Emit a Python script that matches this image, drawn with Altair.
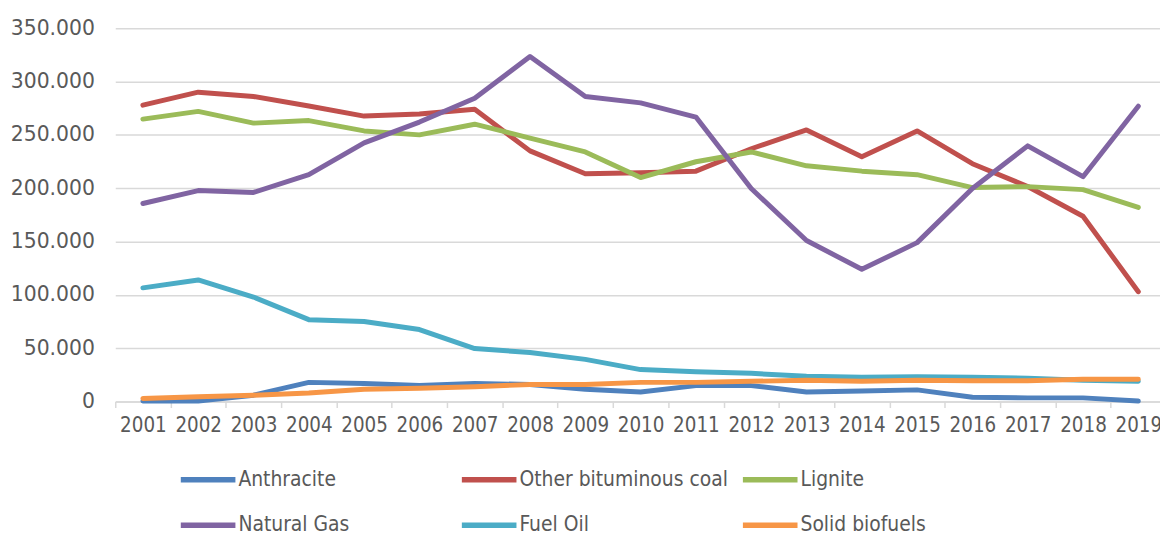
import altair as alt
import pandas as pd

years = [str(y) for y in range(2001, 2020)]
series_names = ["Anthracite", "Other bituminous coal", "Lignite",
                "Natural Gas", "Fuel Oil", "Solid biofuels"]
colors = ["#4F81BD", "#C0504D", "#9BBB59", "#8064A2", "#4BACC6", "#F79646"]

anthracite = [500, 500, 6000, 18000, 17000, 15000, 17000, 16000, 11600, 9000,
              15000, 15000, 9000, 10000, 11000, 4000, 3500, 3500, 500]
other_bituminous = [277900, 290000, 286000, 277000, 267600, 269500, 274000, 235000,
                    213600, 214500, 216000, 237000, 254600, 229500, 253700, 223000,
                    201600, 173700, 103000]
lignite = [264800, 272000, 261000, 263400, 253700, 250000, 260000, 247000, 234000,
           210000, 224800, 234000, 221000, 216000, 212700, 200600, 201500, 198700,
           182000]
natural_gas = [185700, 197800, 196000, 212700, 242500, 262000, 284400, 323500,
               286000, 280000, 266700, 199700, 151000, 124000, 149000, 199700,
               239700, 210800, 276900]
fuel_oil = [106600, 114000, 98000, 76800, 75000, 67500, 49700, 46000, 39600, 30000,
            28000, 26500, 23700, 22800, 23300, 22800, 21900, 20000, 19000]
solid_biofuels = [3000, 4500, 6000, 8000, 11500, 12500, 14000, 16000, 16000, 18000,
                  18000, 19000, 20000, 19000, 20000, 19500, 19500, 21000, 21000]

all_series = [anthracite, other_bituminous, lignite, natural_gas, fuel_oil, solid_biofuels]
rows = []
for name, vals in zip(series_names, all_series):
    for yr, v in zip(years, vals):
        rows.append({"year": yr, "series": name, "value": v})
df = pd.DataFrame(rows)

y_ticks = [0, 50000, 100000, 150000, 200000, 250000, 300000, 350000]
grid_col = "#d9d9d9"
text_col = "#595959"

chart = alt.Chart(df).mark_line(
    strokeWidth=5, strokeCap="round", strokeJoin="round"
).encode(
    x=alt.X("year:O", bandPosition=0.5,
            scale=alt.Scale(type="band", paddingInner=0, paddingOuter=0, range=[0, 1058]),
            axis=alt.Axis(title=None, labelAngle=0, tickBand="extent", grid=False,
                          domainColor=grid_col, domainWidth=1.5, tickColor=grid_col,
                          tickWidth=1.5, tickSize=6, labelPadding=8,
                          labelFont="DejaVu Sans Condensed", labelFontSize=20.5,
                          labelColor=text_col)),
    y=alt.Y("value:Q", scale=alt.Scale(domain=[0, 350000], nice=False),
            axis=alt.Axis(title=None, values=y_ticks,
                          labelExpr="datum.value == 0 ? '0' : format(datum.value / 1000, 'd') + '.000'",
                          domain=False, ticks=False, gridColor=grid_col, gridWidth=1.5,
                          labelPadding=21, labelFont="DejaVu Sans", labelFontSize=20.5,
                          labelColor=text_col)),
    color=alt.Color("series:N", sort=series_names,
                    scale=alt.Scale(domain=series_names, range=colors),
                    legend=alt.Legend(title=None, orient="none", legendX=63, legendY=424,
                                      direction="horizontal", columns=3, gridAlign="all",
                                      symbolType="stroke", symbolSize=3025,
                                      symbolStrokeWidth=5.5, labelFont="DejaVu Sans Condensed",
                                      labelFontSize=21, labelColor=text_col, labelLimit=400,
                                      columnPadding=3, rowPadding=4, labelOffset=0,
                                      padding=0)),
).properties(
    width=1052, height=376,
    autosize=alt.AutoSizeParams(type="none"),
    padding={"left": 108, "top": 18.5, "right": 0, "bottom": 132},
).configure_view(stroke=None)

chart.save("out.html", embed_options={"renderer": "svg", "actions": False})
